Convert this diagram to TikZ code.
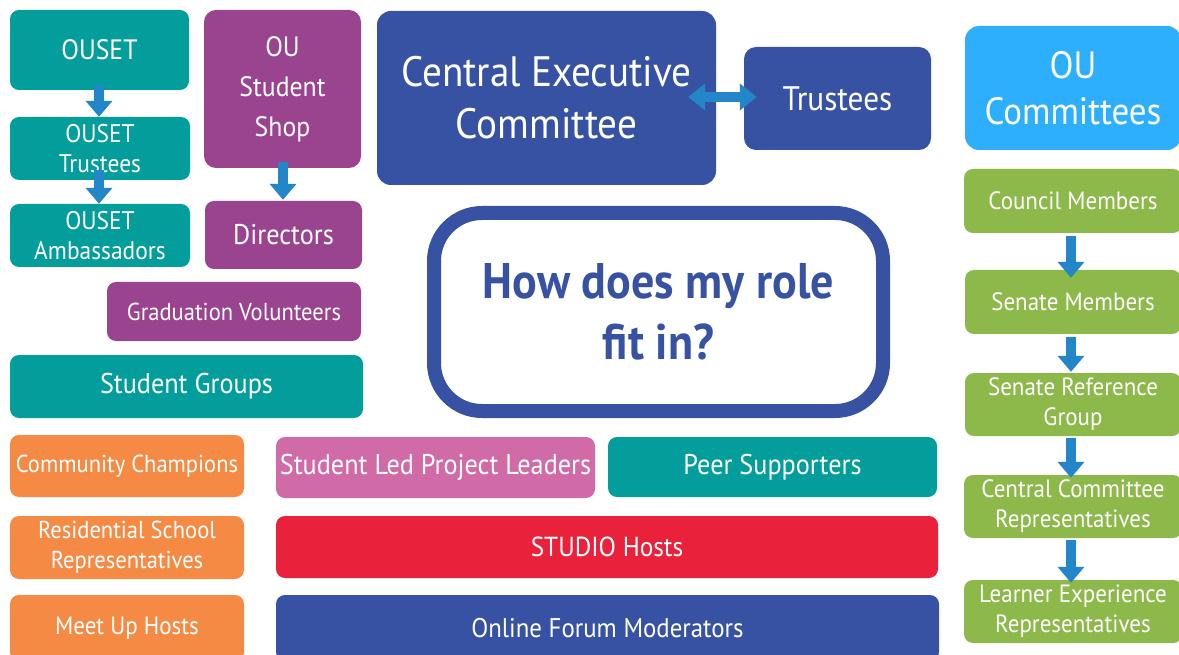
\documentclass[tikz,border=0pt]{standalone}
\usepackage{fontspec}
\setmainfont{PT Sans}[FakeStretch=0.92]
\usetikzlibrary{arrows.meta}
\definecolor{cteal}{HTML}{039E9B}
\definecolor{cpurple}{HTML}{9A4490}
\definecolor{cblue}{HTML}{3852A3}
\definecolor{clight}{HTML}{2EAFFE}
\definecolor{cgreen}{HTML}{8DB84A}
\definecolor{corange}{HTML}{F58A45}
\definecolor{cpink}{HTML}{D06BA8}
\definecolor{cred}{HTML}{EA213A}
\definecolor{carrow}{HTML}{2386C8}
\tikzset{
  box/.style={rounded corners=9pt, text=white, align=center, inner sep=0pt,
    font=\fontsize{24.5}{30}\selectfont},
  blockarrow/.style={line width=10pt, draw=carrow, -{Triangle[width=26pt,length=16pt]}},
  dblarrow/.style={line width=10pt, draw=carrow, {Triangle[width=26pt,length=17pt]}-{Triangle[width=26pt,length=17pt]}},
}
\begin{document}
\begin{tikzpicture}[x=1pt,y=-1pt]
\useasboundingbox (0,0) rectangle (1179,655);
\clip (0,0) rectangle (1179,655);
\fill[white] (0,0) rectangle (1179,655);
% left column
\node[box, fill=cteal, minimum width=179pt, minimum height=80pt, font=\fontsize{28}{34}\selectfont] (ouset) at (99.5,50) {OUSET};
\node[box, fill=cteal, minimum width=180pt, minimum height=63pt, font=\fontsize{25.5}{30}\selectfont] (otrust) at (100,148.5) {OUSET\\Trustees};
\node[box, fill=cteal, minimum width=180pt, minimum height=63pt, font=\fontsize{25.5}{30}\selectfont] (oamb) at (100,235.5) {OUSET\\Ambassadors};
% shop
\node[box, fill=cpurple, minimum width=157pt, minimum height=158pt, rounded corners=12pt, font=\fontsize{28}{40}\selectfont] (shop) at (282.5,89) {OU\\Student\\Shop};
\node[box, fill=cpurple, minimum width=157pt, minimum height=68pt, font=\fontsize{28.5}{32}\selectfont] (dir) at (283.5,235) {Directors};
\node[box, fill=cpurple, minimum width=254pt, minimum height=59pt] (grad) at (234,311.5) {Graduation Volunteers};
\node[box, fill=cteal, minimum width=353pt, minimum height=63pt, font=\fontsize{28.5}{32}\selectfont] (groups) at (186.5,386.5) {Student Groups};
% orange
\node[box, fill=corange, minimum width=234pt, minimum height=62pt] (comm) at (127,466) {Community Champions};
\node[box, fill=corange, minimum width=234pt, minimum height=63pt] (resi) at (127,547.5) {Residential School\\Representatives};
\node[box, fill=corange, minimum width=234pt, minimum height=66pt, font=\fontsize{25}{30}\selectfont] (meet) at (127,628) {Meet Up Hosts};
% middle bottom
\node[box, fill=cpink, minimum width=319pt, minimum height=61pt, font=\fontsize{28.5}{32}\selectfont] (slpl) at (435.5,467.5) {Student Led Project Leaders};
\node[box, fill=cteal, minimum width=329pt, minimum height=60pt, font=\fontsize{28.5}{32}\selectfont] (peer) at (772.5,467) {Peer Supporters};
\node[box, fill=cred, minimum width=662pt, minimum height=62pt, font=\fontsize{27.5}{32}\selectfont] (studio) at (607,547) {STUDIO Hosts};
\node[box, fill=cblue, minimum width=663pt, minimum height=66pt, font=\fontsize{27}{32}\selectfont] (forum) at (607.5,628) {Online Forum Moderators};
% top middle
\node[box, fill=cblue, minimum width=339pt, minimum height=174pt, rounded corners=14pt, font=\fontsize{42.5}{52}\selectfont] (cec) at (546.5,98) {Central Executive\\Committee};
\node[box, fill=cblue, minimum width=187pt, minimum height=103pt, rounded corners=12pt, font=\fontsize{34}{36}\selectfont] (trust) at (837.5,98.5) {Trustees};
% question
\node[draw=cblue, line width=14pt, fill=white, rounded corners=48pt, minimum width=449pt, minimum height=198pt, align=center, inner sep=0pt, text=cblue, font=\fontsize{50}{61}\selectfont\bfseries] (q) at (658.5,312) {How does my role\\fit in?};
% right column
\node[box, fill=clight, minimum width=216pt, minimum height=124pt, rounded corners=14pt, font=\fontsize{38}{46}\selectfont] (oucom) at (1073,88) {OU\\Committees};
\node[box, fill=cgreen, minimum width=218pt, minimum height=64pt, font=\fontsize{25}{30}\selectfont] (council) at (1073,201) {Council Members};
\node[box, fill=cgreen, minimum width=216pt, minimum height=64pt, font=\fontsize{25}{30}\selectfont] (senate) at (1073,302) {Senate Members};
\node[box, fill=cgreen, minimum width=216pt, minimum height=63pt, font=\fontsize{25}{30}\selectfont] (srg) at (1073,404.5) {Senate Reference\\Group};
\node[box, fill=cgreen, minimum width=218pt, minimum height=63pt, font=\fontsize{25}{30}\selectfont] (ccr) at (1073,506.5) {Central Committee\\Representatives};
\node[box, fill=cgreen, minimum width=218pt, minimum height=63pt, font=\fontsize{25}{30}\selectfont] (ler) at (1073,611.5) {Learner Experience\\Representatives};
% arrows
\draw[blockarrow, shorten <=-5pt, shorten >=0pt] (ouset.south -| 99,0) -- (otrust.north -| 99,0);
\draw[blockarrow, shorten <=-10pt, shorten >=0pt] (otrust.south -| 99,0) -- (oamb.north -| 99,0);
\draw[blockarrow, shorten <=-6pt, shorten >=1pt] (shop.south -| 283,0) -- (dir.north -| 283,0);
\draw[blockarrow, shorten <=3pt, shorten >=-8pt] (council.south -| 1071,0) -- (senate.north -| 1071,0);
\draw[blockarrow, shorten <=3pt, shorten >=1pt] (senate.south -| 1071,0) -- (srg.north -| 1071,0);
\draw[blockarrow, shorten <=2pt, shorten >=-3pt] (srg.south -| 1071,0) -- (ccr.north -| 1071,0);
\draw[blockarrow, shorten <=2pt, shorten >=-3pt] (ccr.south -| 1071,0) -- (ler.north -| 1071,0);
\draw[dblarrow, shorten <=-28pt, shorten >=-13pt] (cec.east |- 0,97) -- (trust.west |- 0,97);
\end{tikzpicture}
\end{document}
